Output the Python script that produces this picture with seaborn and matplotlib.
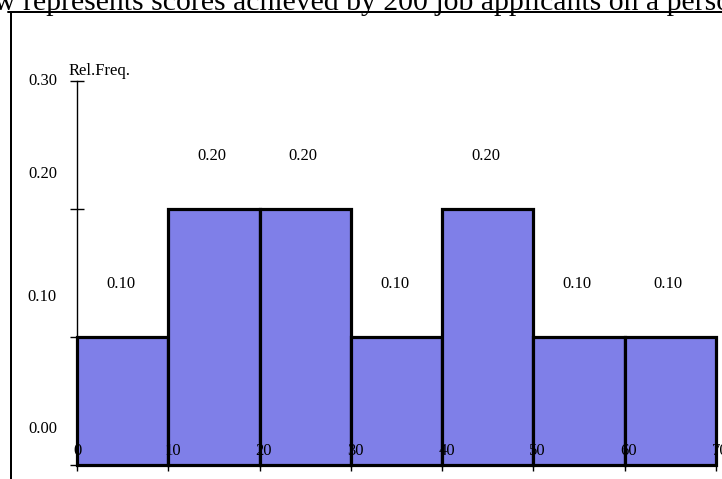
import matplotlib
matplotlib.use("Agg")
import matplotlib.pyplot as plt
from matplotlib.lines import Line2D
import seaborn as sns
import numpy as np

# Score classes (lower bounds, width 10) and relative frequencies
class_edges = [0, 10, 20, 30, 40, 50, 60, 70]
rel_freq = [0.10, 0.20, 0.20, 0.10, 0.20, 0.10, 0.10]
y_ticks = [0.00, 0.10, 0.20, 0.30]
y_tick_labels = ["0.00", "0.10", "0.20", "0.30"]
x_tick_labels = ["0", "10", "20", "30", "40", "50", "60", "70"]
title = "w represents scores achieved by 200 job applicants on a personality test"

# vertical shift (pixels) of each y tick label relative to its tick
ytick_label_shift_px = [36, 40, 35, 0]

sns.set_theme(style="white")
plt.rcParams["font.family"] = ["Liberation Serif", "DejaVu Serif"]

W, H = 722, 479
fig = plt.figure(figsize=(W / 100, H / 100), dpi=100)
fig.patch.set_facecolor("white")

# axes placed in pixel terms
x0, x1, y_base, y_top = 77, 716, 465, 81.5
ax = fig.add_axes([x0 / W, (H - y_base) / H, (x1 - x0) / W, (y_base - y_top) / H])
ax.set_facecolor("none")

mids = [(a + b) / 2 for a, b in zip(class_edges[:-1], class_edges[1:])]
sns.histplot(x=mids, weights=rel_freq, bins=class_edges, stat="count",
             color="#7F7FE8", alpha=1.0, edgecolor="black", linewidth=2.3,
             ax=ax, zorder=3)
for p in ax.patches:
    p.set_clip_on(False)

ax.set_xlim(class_edges[0], class_edges[-1])
ax.set_ylim(0, 0.30)
ax.set_xlabel("")
ax.set_ylabel("")

for s in ["top", "right"]:
    ax.spines[s].set_visible(False)
ax.spines["left"].set_linewidth(1.0)
ax.spines["left"].set_color("black")
ax.spines["bottom"].set_linewidth(1.0)
ax.spines["bottom"].set_color("black")

ax.set_yticks(y_ticks)
ax.set_yticklabels([])
ax.tick_params(axis="y", direction="inout", length=10, width=1.0, color="black", left=True)
ax.set_xticks(class_edges)
ax.set_xticklabels([])
ax.tick_params(axis="x", direction="out", length=4, width=1.0, color="black", bottom=True)

fs = 12
pt = 72 / 100  # points per pixel

# y tick labels
for v, lab, sh in zip(y_ticks, y_tick_labels, ytick_label_shift_px):
    ax.annotate(lab, xy=(0, v), xycoords=("axes fraction", "data"),
                xytext=(-20 * pt, sh * pt), textcoords="offset points",
                ha="right", va="center", fontsize=fs, color="black", annotation_clip=False)

# x tick labels at class boundaries, drawn over the bars
for e, lab in zip(class_edges, x_tick_labels):
    ax.annotate(lab, xy=(e, 0), xycoords=("data", "data"),
                xytext=(-4 * pt, 14 * pt), textcoords="offset points",
                ha="left", va="center", fontsize=fs, color="black",
                annotation_clip=False, zorder=6)

# value labels above each bar
for m, v in zip(mids, rel_freq):
    ax.annotate(f"{v:.2f}", xy=(m, v), xycoords="data",
                xytext=(-2 * pt, 53 * pt), textcoords="offset points",
                ha="center", va="center", fontsize=fs, color="black",
                annotation_clip=False)

# axis caption
ax.annotate("Rel.Freq.", xy=(0, y_ticks[-1]), xycoords=("axes fraction", "data"),
            xytext=(-8 * pt, 10 * pt), textcoords="offset points",
            ha="left", va="center", fontsize=fs, color="black", annotation_clip=False)

# outer frame (left and top edges)
lw_frame = 2 * pt
fig.add_artist(Line2D([10.5 / W, 10.5 / W], [0, 1 - 11.5 / H], transform=fig.transFigure,
                      color="black", linewidth=lw_frame))
fig.add_artist(Line2D([8 / W, 1], [1 - 11.5 / H, 1 - 11.5 / H], transform=fig.transFigure,
                      color="black", linewidth=lw_frame))

# heading
fig.text(-6 / W, 1 - 9.5 / H, title, fontsize=21.4, ha="left", va="baseline",
         color="black", zorder=5)

fig.savefig("out.png", dpi=100)
